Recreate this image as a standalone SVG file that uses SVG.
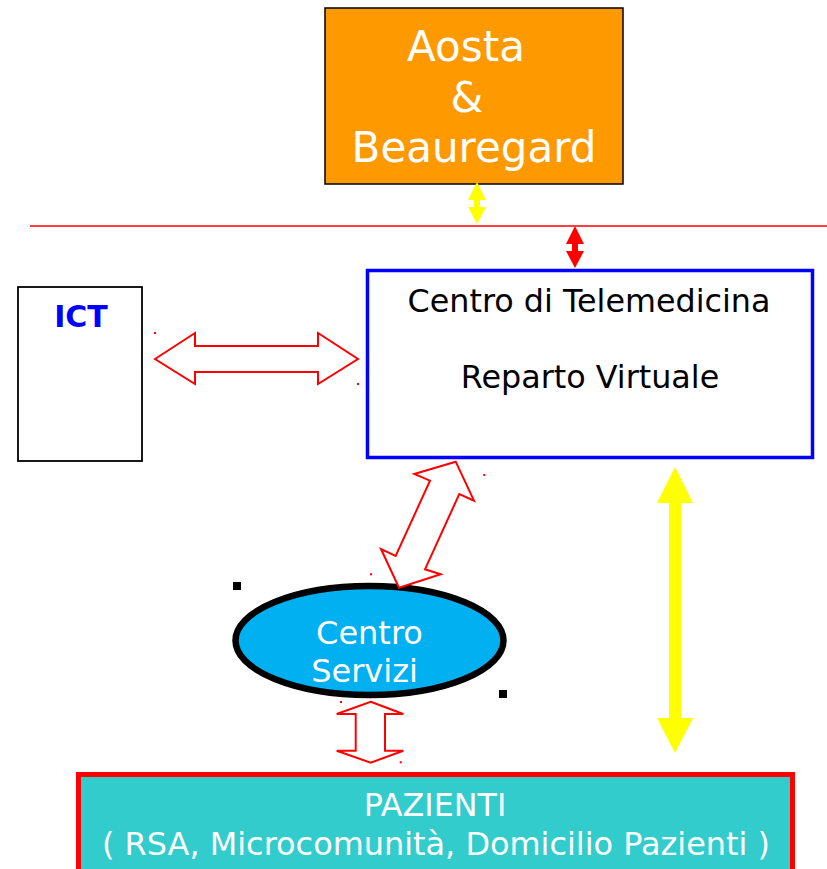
<svg xmlns="http://www.w3.org/2000/svg" width="827" height="869" viewBox="0 0 827 869">
<style>
text{font-family:"DejaVu Sans","Liberation Sans",sans-serif}
.w{fill:#fff}
.k{fill:#000}
.hollow{fill:#fff;stroke:#f00;stroke-width:2;stroke-linejoin:miter}
.dot{fill:#f00}
.sq{fill:#000}
</style>
<rect width="827" height="869" fill="#fff"/>
<g id="aosta">
<rect x="325" y="8" width="298" height="176" fill="#FF9900" stroke="#000" stroke-width="1.5"/>
<text x="466" y="61" font-size="42" text-anchor="middle" class="w">Aosta</text>
<text x="467" y="112" font-size="42" text-anchor="middle" class="w">&amp;</text>
<text x="474" y="162" font-size="42" text-anchor="middle" class="w">Beauregard</text>
</g>
<g id="ict">
<rect x="18" y="287" width="124" height="174" fill="#fff" stroke="#000" stroke-width="1.8"/>
<text x="81" y="327" font-size="30" font-weight="bold" text-anchor="middle" fill="#0000FF">ICT</text>
</g>
<g id="telemedicina">
<rect x="367.5" y="270.5" width="445" height="187" fill="#fff" stroke="#0000FF" stroke-width="3.5"/>
<text x="589" y="312" font-size="31.8" text-anchor="middle" class="k">Centro di Telemedicina</text>
<text x="590" y="388" font-size="31.8" text-anchor="middle" class="k">Reparto Virtuale</text>
</g>
<g id="servizi">
<ellipse cx="369.5" cy="640.5" rx="134" ry="54.5" fill="#00B0F0" stroke="#000" stroke-width="6.5"/>
<text x="369.5" y="644" font-size="32" text-anchor="middle" class="w">Centro</text>
<text x="364.5" y="682" font-size="32" text-anchor="middle" class="w">Servizi</text>
<rect x="233" y="582" width="8" height="8" class="sq"/>
<rect x="499" y="690" width="8" height="8" class="sq"/>
</g>
<g id="pazienti">
<rect x="78.5" y="774.5" width="714" height="110" fill="#33CCCC" stroke="#FF0000" stroke-width="5"/>
<text x="435" y="816" font-size="31.8" text-anchor="middle" class="w">PAZIENTI</text>
<text x="436" y="855" font-size="31.8" text-anchor="middle" class="w" textLength="668" lengthAdjust="spacingAndGlyphs">( RSA, Microcomunità, Domicilio Pazienti )</text>
</g>
<g id="connectors">
<line x1="30" y1="226" x2="827" y2="226" stroke="#f00" stroke-width="1.5"/>
<polygon fill="#FFFF00" points="477,182 486,200 480,200 480,207 486,207 477,224 468,207 474,207 474,200 468,200"/>
<polygon fill="#FF0000" points="575,226 584,244 578,244 578,251 584,251 575,268 566,251 572,251 572,244 566,244"/>
<polygon fill="#FFFF00" points="675,467 693,503 681,503 681,718 693,718 675,753 657,718 669,718 669,503 657,503"/>
<polygon class="hollow" points="155,359 195,333 195,346 318,346 318,333 358,359 318,384 318,372 195,372 195,384"/>
<rect x="154" y="332" width="2" height="2" class="dot"/>
<rect x="357" y="383" width="2" height="2" class="dot"/>
<polygon class="hollow" points="455.7,461.7 474,500.7 459.3,494 425,569.3 440.7,574.3 399,587.7 381,549 395.7,556 430,480.7 414.3,474"/>
<rect x="483.3" y="474" width="2" height="2" class="dot"/>
<rect x="370" y="573.3" width="2" height="2" class="dot"/>
<polygon class="hollow" points="370.7,701.7 403.3,714 385,714 385,750.7 403.3,750.7 370.7,762.7 336.7,750.7 355.7,750.7 355.7,714 336.7,714"/>
<rect x="340" y="701" width="2" height="2" class="dot"/>
<rect x="399.7" y="761.3" width="2" height="2" class="dot"/>
</g>
</svg>
